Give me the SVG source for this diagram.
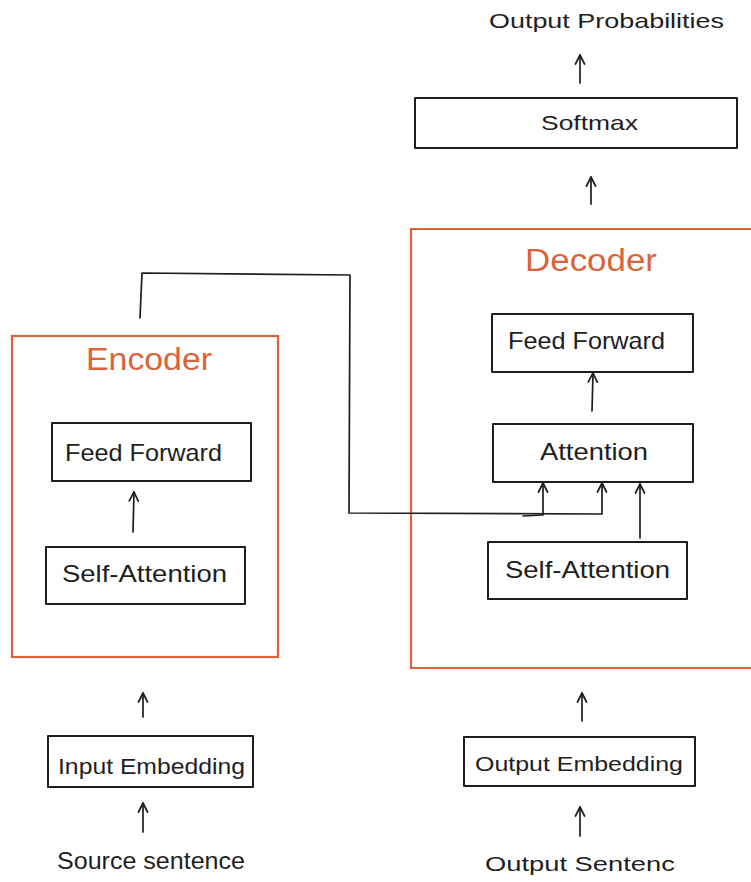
<svg xmlns="http://www.w3.org/2000/svg" width="751" height="882" viewBox="0 0 751 882">
  <style>
    .box { fill: none; stroke: #1e1e1e; stroke-width: 2; stroke-linejoin: round; }
    .frame { fill: none; stroke: #d9643a; stroke-width: 2.2; }
    .lbl { font-family: "Liberation Sans", "Open Sans", sans-serif; font-size: 21px; fill: #1e1e1e; }
    .big { font-size: 24px; }
    .mid { font-size: 22px; }
    .title { font-family: "Liberation Sans", "Open Sans", sans-serif; font-size: 31px; fill: #d9643a; }
    .wire { fill: none; stroke: #1e1e1e; stroke-width: 1.7; stroke-linejoin: round; stroke-linecap: round; }
  </style>
  <defs>
    <marker id="head" viewBox="-10 -6 12 12" markerWidth="12" markerHeight="12" refX="0" refY="0" orient="auto" markerUnits="userSpaceOnUse">
      <path d="M-9,-4.5 L0,0 L-9,4.5" fill="none" stroke="#1e1e1e" stroke-width="1.7" stroke-linecap="round" stroke-linejoin="round"/>
    </marker>
    <clipPath id="edge">
      <rect x="0" y="840" width="676" height="42"/>
    </clipPath>
  </defs>
  <rect width="751" height="882" fill="#ffffff"/>

  <!-- outer stacks -->
  <g id="encoder">
    <rect class="frame" x="12" y="336" width="266" height="321"/>
    <text class="title" x="86" y="370" textLength="126" lengthAdjust="spacingAndGlyphs">Encoder</text>
  </g>
  <g id="decoder">
    <path class="frame" d="M760,229 L411,229 L411,668 L760,668"/>
    <text class="title" x="525" y="271" textLength="132" lengthAdjust="spacingAndGlyphs">Decoder</text>
  </g>

  <!-- encoder blocks -->
  <g id="enc-feed-forward">
    <rect class="box" x="52" y="423" width="199" height="58"/>
    <text class="lbl big" x="65" y="461" textLength="157" lengthAdjust="spacingAndGlyphs">Feed Forward</text>
  </g>
  <g id="enc-self-attention">
    <rect class="box" x="46" y="547" width="199" height="57"/>
    <text class="lbl big" x="62" y="582" textLength="165" lengthAdjust="spacingAndGlyphs">Self-Attention</text>
  </g>
  <g id="input-embedding">
    <rect class="box" x="48" y="736" width="205" height="51"/>
    <text class="lbl mid" x="58" y="774" textLength="187" lengthAdjust="spacingAndGlyphs">Input Embedding</text>
  </g>
  <g id="source-sentence">
    <text class="lbl big" x="57" y="869" textLength="188" lengthAdjust="spacingAndGlyphs">Source sentence</text>
  </g>

  <!-- decoder blocks -->
  <g id="softmax">
    <rect class="box" x="415" y="98" width="322" height="50"/>
    <text class="lbl" x="541" y="130" textLength="97" lengthAdjust="spacingAndGlyphs">Softmax</text>
  </g>
  <g id="output-probabilities">
    <text class="lbl" x="489" y="28" textLength="235" lengthAdjust="spacingAndGlyphs">Output Probabilities</text>
  </g>
  <g id="dec-feed-forward">
    <rect class="box" x="492" y="314" width="201" height="58"/>
    <text class="lbl big" x="508" y="349" textLength="157" lengthAdjust="spacingAndGlyphs">Feed Forward</text>
  </g>
  <g id="dec-attention">
    <rect class="box" x="493" y="424" width="200" height="58"/>
    <text class="lbl big" x="540" y="460" textLength="108" lengthAdjust="spacingAndGlyphs">Attention</text>
  </g>
  <g id="dec-self-attention">
    <rect class="box" x="488" y="542" width="199" height="57"/>
    <text class="lbl big" x="505" y="578" textLength="165" lengthAdjust="spacingAndGlyphs">Self-Attention</text>
  </g>
  <g id="output-embedding">
    <rect class="box" x="464" y="737" width="231" height="49"/>
    <text class="lbl" x="475" y="771" textLength="208" lengthAdjust="spacingAndGlyphs">Output Embedding</text>
  </g>
  <g id="output-sentence" clip-path="url(#edge)">
    <text class="lbl" x="485" y="871" textLength="205" lengthAdjust="spacingAndGlyphs">Output Sentence</text>
  </g>

  <!-- connectors -->
  <g id="connectors">
    <!-- encoder side -->
    <path class="wire" d="M143,832 L143,803" marker-end="url(#head)"/>
    <path class="wire" d="M143,717 L143,693" marker-end="url(#head)"/>
    <path class="wire" d="M133,532 L134,492" marker-end="url(#head)"/>
    <!-- encoder output routed into decoder attention -->
    <path class="wire" d="M140,318 L142,273 L350,275 L349,513 L602,514 L602,483" marker-end="url(#head)"/>
    <path class="wire" d="M523,516 L543,515 L543,483" marker-end="url(#head)"/>
    <!-- decoder side -->
    <path class="wire" d="M580,836 L580,807" marker-end="url(#head)"/>
    <path class="wire" d="M582,721 L582,693" marker-end="url(#head)"/>
    <path class="wire" d="M640,538 L640,484" marker-end="url(#head)"/>
    <path class="wire" d="M592,411 L593,373" marker-end="url(#head)"/>
    <path class="wire" d="M591,204 L591,177" marker-end="url(#head)"/>
    <path class="wire" d="M580,83 L580,55" marker-end="url(#head)"/>
  </g>
</svg>
